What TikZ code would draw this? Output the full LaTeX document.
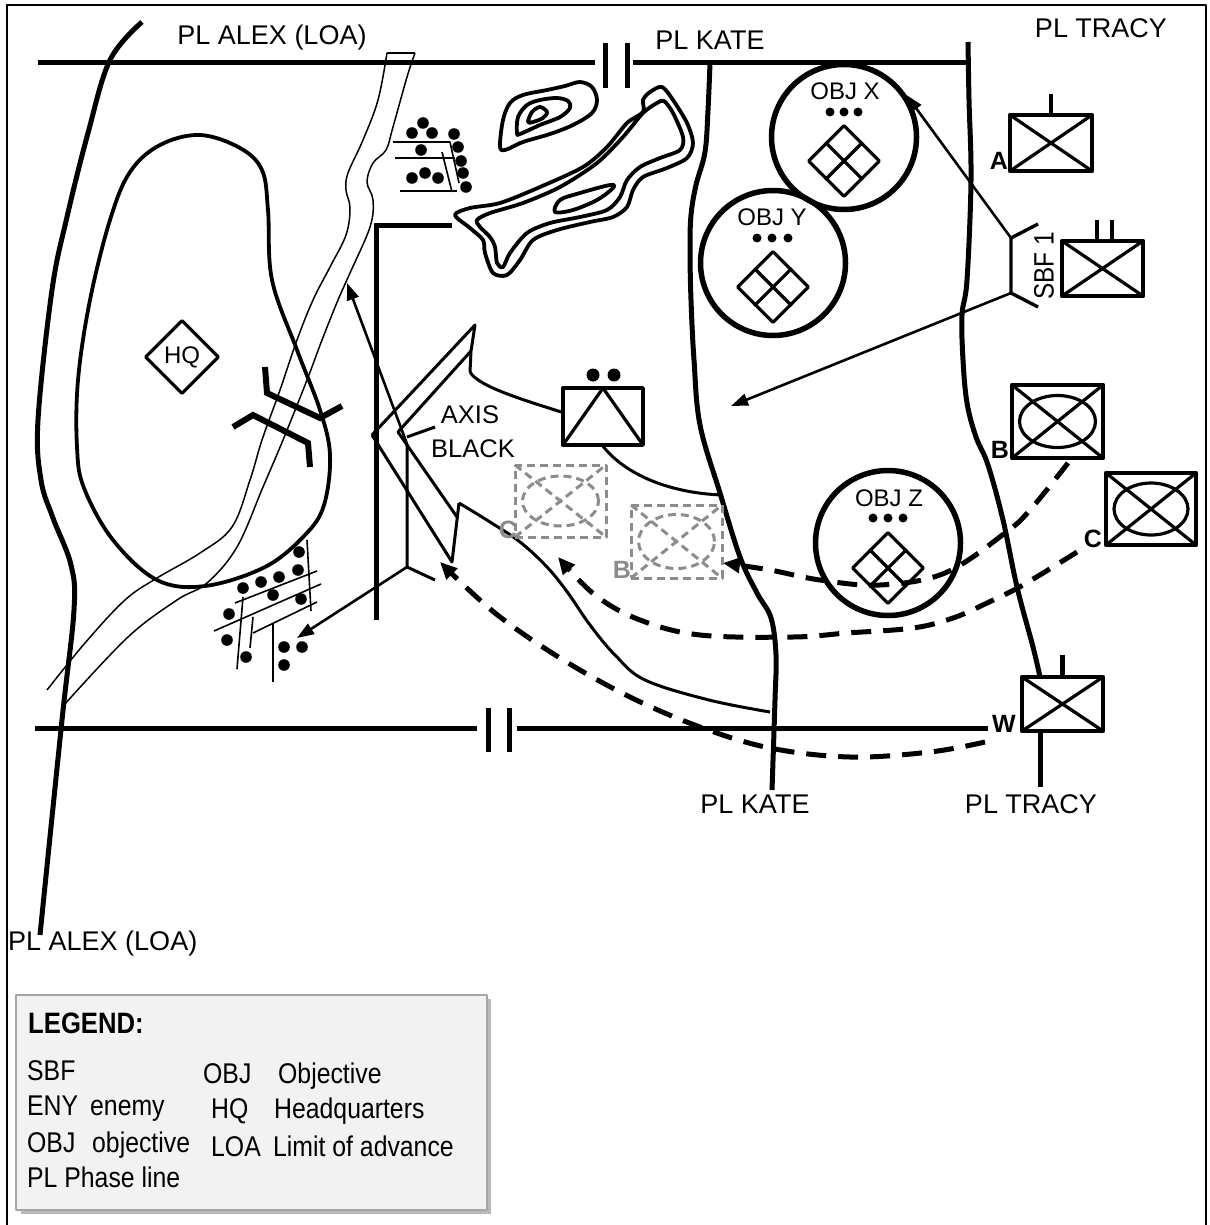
\documentclass[tikz,border=0pt]{standalone}
\usepackage{fontspec}
\setmainfont{Liberation Sans}
\newfontfamily\legfont[FakeStretch=0.87]{Liberation Sans}
\usetikzlibrary{arrows.meta,shapes.geometric,calc}
\definecolor{ghostgray}{RGB}{140,140,140}
\definecolor{legfill}{RGB}{242,242,242}
\begin{document}
\begin{tikzpicture}[x=1pt,y=-1pt,line join=round,
  pl/.style={line width=5pt},
  thinl/.style={line width=1.5pt},
  cont/.style={line width=3.8pt},
  medl/.style={line width=3pt},
  arr/.style={line width=2.6pt,-{Triangle[length=17pt,width=12pt]}},
  dsh/.style={line width=5pt,dash pattern=on 20pt off 12pt,-{Triangle[length=17pt,width=15pt]}},
  unitbox/.style={draw,line width=4.2pt,inner sep=0pt,outer sep=0pt},
  ghost/.style={draw=ghostgray,line width=3pt,dash pattern=on 8pt off 5pt},
  objc/.style={circle,draw,line width=5.5pt,minimum size=145pt,inner sep=0pt},
  objd/.style={diamond,draw,line width=3.2pt,minimum width=72pt,minimum height=72pt,inner sep=0pt,aspect=1},
  lbl/.style={font=\fontsize{27}{31}\selectfont,inner sep=0pt},
  olbl/.style={font=\fontsize{24}{28}\selectfont,inner sep=0pt},
  ulbl/.style={font=\fontsize{25}{29}\selectfont\bfseries,inner sep=0pt},
  leg/.style={font=\legfont\fontsize{28.5}{32}\selectfont,inner sep=0pt,anchor=base west}
]
\useasboundingbox (0,0) rectangle (1209,1225);
% frame
\draw[line width=1.8pt] (7,1225) -- (7,5) -- (1206,5) -- (1206,1225);

% ---- phase lines
\draw[pl] (38,63) -- (595,63);
\draw[pl] (633,63) -- (968,63);
\draw[pl] (605,43) -- (605,88);
\draw[pl] (627,43) -- (627,88);
\draw[pl] (35,728) -- (477,728);
\draw[pl] (517,728) -- (988,728);
\draw[pl] (488,708) -- (488,752);
\draw[pl] (509,708) -- (509,752);

% PL ALEX boundary
\draw[pl] plot[smooth,tension=0.6] coordinates {(142,22) (110,60) (88,133) (67,217) (52,290) (38,420) (41,480) (53,518) (71,565) (74,610) (62,720) (40,935)};
% PL KATE
\draw[pl] plot[smooth,tension=0.6] coordinates {(710,63) (708,110) (705,152) (696,185) (691,215) (690,250) (691,300) (694,360) (700,425) (720,493) (740,557) (757,593) (771,618) (776,655) (775,700) (772,790)};
% PL TRACY
\coordinate (trB) at (1040,787);
\draw[pl] plot[smooth,tension=0.6] coordinates {(968,42) (969,100) (971,180) (967,280) (962,315) (963,360) (967,403) (976,437) (988,465) (1003,520) (1017,587) (1033,647) (1040,677)};

% ---- labels of phase lines
\node[lbl,anchor=base] (tAlex) at (272,45) {PL ALEX (LOA)};
\node[lbl,anchor=base] (tKate) at (710,50) {PL KATE};
\node[lbl,anchor=base] (tTracy) at (1101,38) {PL TRACY};
\node[lbl,anchor=base] (bKate) at (755,813) {PL KATE};
\node[lbl,anchor=base] (bTracy) at (1031,813) {PL TRACY};
\node[lbl,anchor=base west] (bAlex) at (8,950) {PL ALEX (LOA)};

% ---- river
\draw[thinl] (387,53) -- (415,53);
\draw[thinl] plot[smooth,tension=0.6] coordinates {(387,53) (378,100) (363,140) (348,173) (346,190) (350,208) (346,235) (330,267) (313,300) (297,340) (280,390) (262,440) (250,480) (232,527) (200,553) (157,578) (125,600) (85,643) (47,690)};
\draw[thinl] plot[smooth,tension=0.6] coordinates {(415,53) (407,77) (393,127) (386,150) (373,163) (367,182) (373,200) (370,227) (350,273) (338,300) (322,340) (307,380) (283,440) (263,487) (237,547) (207,583) (177,600) (128,637) (64,705)};

% ---- big hill contour
\draw[cont] plot[smooth cycle,tension=0.6] coordinates {(157,580) (113,540) (84,488) (77,447) (78,380) (90,300) (110,220) (130,172) (160,145) (200,135) (240,148) (262,170) (268,210) (272,280) (297,350) (320,410) (330,455) (324,505) (305,535) (265,567) (205,586)};

% HQ
\node[objd,minimum width=74pt,minimum height=74pt,font=\fontsize{24}{28}\selectfont] (hq) at (182,357) {HQ};

% obstacle brackets
\draw[line width=6pt,line join=miter] (265,367) -- (267,393) -- (320,418) -- (342,406);
\draw[line width=6pt,line join=miter] (233,427) -- (253,415) -- (308,443) -- (310,467);

% ---- obstacles (dots)
\foreach \p in {(423,123),(412,133),(432,133),(454,134),(421,150),(458,147),(461,161),(412,178),(425,173),(438,178),(463,173),(466,187)}
  \fill \p circle (5.8pt);
\draw[line width=1.6pt] (393,142) -- (450,142) -- (459,183);
\draw[line width=1.6pt] (395,158) -- (455,158);
\draw[line width=1.6pt] (442,152) -- (452,192);
\draw[line width=1.6pt] (400,191) -- (457,191);

\foreach \p in {(299,552),(298,570),(279,577),(261,582),(243,588),(273,595),(301,599),(229,614),(227,640),(246,657),(284,647),(302,647),(284,665)}
  \fill \p circle (5.8pt);
\draw[line width=1.6pt] (235,603) -- (317,571);
\draw[line width=1.6pt] (214,631) -- (321,584);
\draw[line width=1.6pt] (253,633) -- (317,602);
\draw[line width=1.6pt] (243,597) -- (237,669);
\draw[line width=1.6pt] (253,617) -- (250,648);
\draw[line width=1.6pt] (273,623) -- (273,682);
\draw[line width=1.6pt] (307,540) -- (311,611);

% ---- boundary bracket
\draw[pl,line join=miter] (452,225) -- (376,225) -- (376,620);

% ---- hills
\draw[cont] plot[smooth cycle,tension=0.55] coordinates {(500,146) (503,120) (510,103) (523,95) (547,90) (565,86) (580,82) (592,87) (597,100) (592,113) (573,125) (550,134) (523,142) (505,150)};
\draw[cont] plot[smooth cycle,tension=0.55] coordinates {(517,133) (518,117) (527,105) (540,100) (557,98) (568,101) (570,108) (560,117) (540,125) (520,134)};
\draw[cont] plot[smooth cycle,tension=0.55] coordinates {(528,122) (532,112) (540,107) (547,112) (543,118) (533,122)};
\draw[cont] plot[smooth cycle,tension=0.5] coordinates {(455,215) (470,208) (500,203) (540,187) (583,167) (607,147) (627,123) (643,112) (643,100) (650,92) (662,87) (673,100) (687,123) (693,143) (687,158) (667,168) (643,177) (633,190) (627,207) (613,217) (590,222) (557,230) (533,240) (520,260) (507,275) (493,273) (485,253) (483,240) (470,228)};
\draw[cont] plot[smooth cycle,tension=0.5] coordinates {(477,220) (490,213) (523,203) (560,187) (597,163) (623,137) (643,113) (657,103) (664,101) (673,113) (683,137) (680,150) (660,158) (640,167) (627,180) (620,197) (607,210) (580,217) (550,223) (527,233) (510,253) (503,267) (497,263) (495,247) (490,237) (480,227)};
\draw[cont] plot[smooth cycle,tension=0.55] coordinates {(555,212) (560,200) (580,193) (610,185) (613,188) (597,200) (573,210)};

% ---- AXIS BLACK
\coordinate (axTip) at (372,435);
\coordinate (axUp) at (475,325);
\coordinate (axUpIn) at (471,351);
\coordinate (axKnee) at (470,372);
\coordinate (axInV) at (398,432);
\coordinate (axInEnd) at (457,517);
\coordinate (axLow) at (452,562);
\coordinate (axZig) at (459,503);
\coordinate (axVt) at (407,444);
\coordinate (axVb) at (407,567);
\draw[medl] (axTip) -- (axUp) -- (axUpIn) -- (axKnee);
\draw[medl] (axUpIn) -- (axInV) -- (axInEnd);
\draw[medl] (axTip) -- (axLow) -- (axZig);
\draw[medl] (axVt) -- (axVb) -- (435,580);
\draw[medl] (407,437) -- (435,427);
\node[font=\fontsize{25.5}{29}\selectfont,inner sep=0pt,anchor=base] (tAxis) at (470,423) {AXIS};
\node[font=\fontsize{25.5}{29}\selectfont,inner sep=0pt,anchor=base] (tBlack) at (473,457) {BLACK};
% lower terrain curve
\draw[medl] plot[smooth,tension=0.6] coordinates {(axZig) (490,522) (520,542) (547,567) (568,593) (590,625) (615,655) (645,680) (709,700) (770,712)};
% arrows from axis
\draw[arr] (axVt) -- (347,283);
\draw[arr] (axVb) -- (297,638);

% ---- enemy unit
\node[draw,line width=3.4pt,minimum width=80pt,minimum height=57pt,inner sep=0pt,outer sep=0pt] (eny) at (603,416.5) {};
\draw[line width=3.2pt] (eny.south west) -- (eny.north) -- (eny.south east);
\fill (593,375) circle (6.5pt) (614,375) circle (6.5pt);
\draw[medl] (axKnee) .. controls (478,386) and (520,399) .. ($(eny.west)+(0,-4)$);
\draw[medl] ($(eny.south)+(-1,0)$) .. controls (625,475) and (670,493) .. (722,495);

% ---- ghost units
\node[ghost,minimum width=91pt,minimum height=72pt,inner sep=0pt,outer sep=0pt] (gC) at (560.5,501) {};
\draw[ghost] (gC.center) ellipse [x radius=38pt,y radius=25pt];
\draw[ghost] (gC.north west) -- (gC.south east) (gC.south west) -- (gC.north east);
\node[ulbl,text=ghostgray,anchor=base] (gCl) at (508,538) {C};
\node[ghost,minimum width=91pt,minimum height=73pt,inner sep=0pt,outer sep=0pt] (gB) at (676.5,541.5) {};
\draw[ghost] (gB.center) ellipse [x radius=38pt,y radius=27pt];
\draw[ghost] (gB.north west) -- (gB.south east) (gB.south west) -- (gB.north east);
\node[ulbl,text=ghostgray,anchor=base] (gBl) at (622,578) {B};

% ---- objectives
\node[objc] (objX) at (844,137) {};
\node[olbl,anchor=base] at (845,100) {OBJ X};
\fill (830,112) circle (4.5pt) (844,112) circle (4.5pt) (858,112) circle (4.5pt);
\node[objd] (dX) at (844,161) {};
\draw[line width=3.2pt] ($(dX.north)!0.5!(dX.east)$) -- ($(dX.south)!0.5!(dX.west)$) ($(dX.north)!0.5!(dX.west)$) -- ($(dX.south)!0.5!(dX.east)$);

\node[objc] (objY) at (773,263) {};
\node[olbl,anchor=base] at (772,225) {OBJ Y};
\fill (757,238) circle (4.5pt) (772,238) circle (4.5pt) (788,238) circle (4.5pt);
\node[objd] (dY) at (773,287) {};
\draw[line width=3.2pt] ($(dY.north)!0.5!(dY.east)$) -- ($(dY.south)!0.5!(dY.west)$) ($(dY.north)!0.5!(dY.west)$) -- ($(dY.south)!0.5!(dY.east)$);

\node[objc] (objZ) at (888,543) {};
\node[olbl,anchor=base] at (889,506) {OBJ Z};
\fill (873,518) circle (4.5pt) (888,518) circle (4.5pt) (903,518) circle (4.5pt);
\node[objd] (dZ) at (888,568) {};
\draw[line width=3.2pt] ($(dZ.north)!0.5!(dZ.east)$) -- ($(dZ.south)!0.5!(dZ.west)$) ($(dZ.north)!0.5!(dZ.west)$) -- ($(dZ.south)!0.5!(dZ.east)$);

% ---- friendly units
\node[unitbox,minimum width=82pt,minimum height=56pt] (uA) at (1051,143) {};
\draw[line width=3.2pt] (uA.north west) -- (uA.south east) (uA.south west) -- (uA.north east);
\draw[line width=4.5pt] (uA.north) -- ++(0,-21);
\node[ulbl,anchor=base] (lA) at (999,170) {A};

\node[unitbox,minimum width=81pt,minimum height=55pt] (uS) at (1102.5,268.5) {};
\draw[line width=3.2pt] (uS.north west) -- (uS.south east) (uS.south west) -- (uS.north east);
\draw[line width=4.5pt] (1097,241) -- (1097,220) (1112,241) -- (1112,220);

\node[unitbox,minimum width=91pt,minimum height=73pt] (uB) at (1057.5,421.5) {};
\draw[line width=3.2pt] (uB.center) ellipse [x radius=38pt,y radius=26pt];
\draw[line width=3.2pt] (uB.north west) -- (uB.south east) (uB.south west) -- (uB.north east);
\node[ulbl,anchor=base] (lB) at (1000,458) {B};

\node[unitbox,minimum width=90pt,minimum height=72pt] (uC) at (1151,509) {};
\draw[line width=3.2pt] (uC.center) ellipse [x radius=37pt,y radius=26pt];
\draw[line width=3.2pt] (uC.north west) -- (uC.south east) (uC.south west) -- (uC.north east);
\node[ulbl,anchor=base] (lC) at (1093,547) {C};

\node[unitbox,minimum width=81pt,minimum height=54pt] (uW) at (1062.5,704) {};
\draw[line width=3.2pt] (uW.north west) -- (uW.south east) (uW.south west) -- (uW.north east);
\draw[line width=4.5pt] (uW.north) -- ++(0,-22);
\draw[pl] ($(uW.south west)+(18,0)$) -- (trB);
\node[ulbl,anchor=base] (lW) at (1004,732) {W};

% ---- SBF
\coordinate (sbfT) at (1011,238);
\coordinate (sbfB) at (1011,293);
\coordinate (sbfTip) at (731,406);
\draw[line width=3.4pt,line join=miter] (1038,224) -- (sbfT) -- (sbfB) -- (1038,307);
\node[font=\legfont\fontsize{28}{32}\selectfont,inner sep=0pt,rotate=90] (tSBF) at (1044,266) {SBF 1};
\draw[arr] (sbfT) -- (objX.34);
\draw[arr] (sbfB) -- (sbfTip);

% ---- dashed movement arrows
\draw[dsh] plot[smooth,tension=0.6] coordinates {(1068,463) (1030,510) (1005,533) (945,573) (880,585) (820,580) (770,570) (723,563)};
\draw[dsh] plot[smooth,tension=0.6] coordinates {(1077,552) (1023,585) (987,603) (953,618) (913,628) (847,633) (793,637) (700,635) (640,620) (595,595) (558,557)};
\draw[dsh] plot[smooth,tension=0.6] coordinates {(985,742) (930,752) (850,757) (770,748) (700,727) (630,697) (560,658) (495,613) (440,562)};

% ---- legend
\fill[gray!55] (21,999) rectangle (491,1214);
\filldraw[fill=legfill,draw=gray!70,line width=1.2pt] (16,995) rectangle (487,1210);
\node[font=\legfont\fontsize{29.5}{33}\selectfont\bfseries,inner sep=0pt,anchor=base west] (legT) at (28,1033) {LEGEND:};
\node[leg] at (27,1080) {SBF};
\node[leg] at (27,1115) {ENY};
\node[leg] at (90,1115) {enemy};
\node[leg] at (27,1152) {OBJ};
\node[leg] at (92,1152) {objective};
\node[leg] at (27,1187) {PL Phase line};
\node[leg] at (203,1083) {OBJ};
\node[leg] at (278,1083) {Objective};
\node[leg] at (211,1118) {HQ};
\node[leg] at (274,1118) {Headquarters};
\node[leg] at (211,1156) {LOA};
\node[leg] at (273,1156) {Limit of advance};
\end{tikzpicture}
\end{document}
